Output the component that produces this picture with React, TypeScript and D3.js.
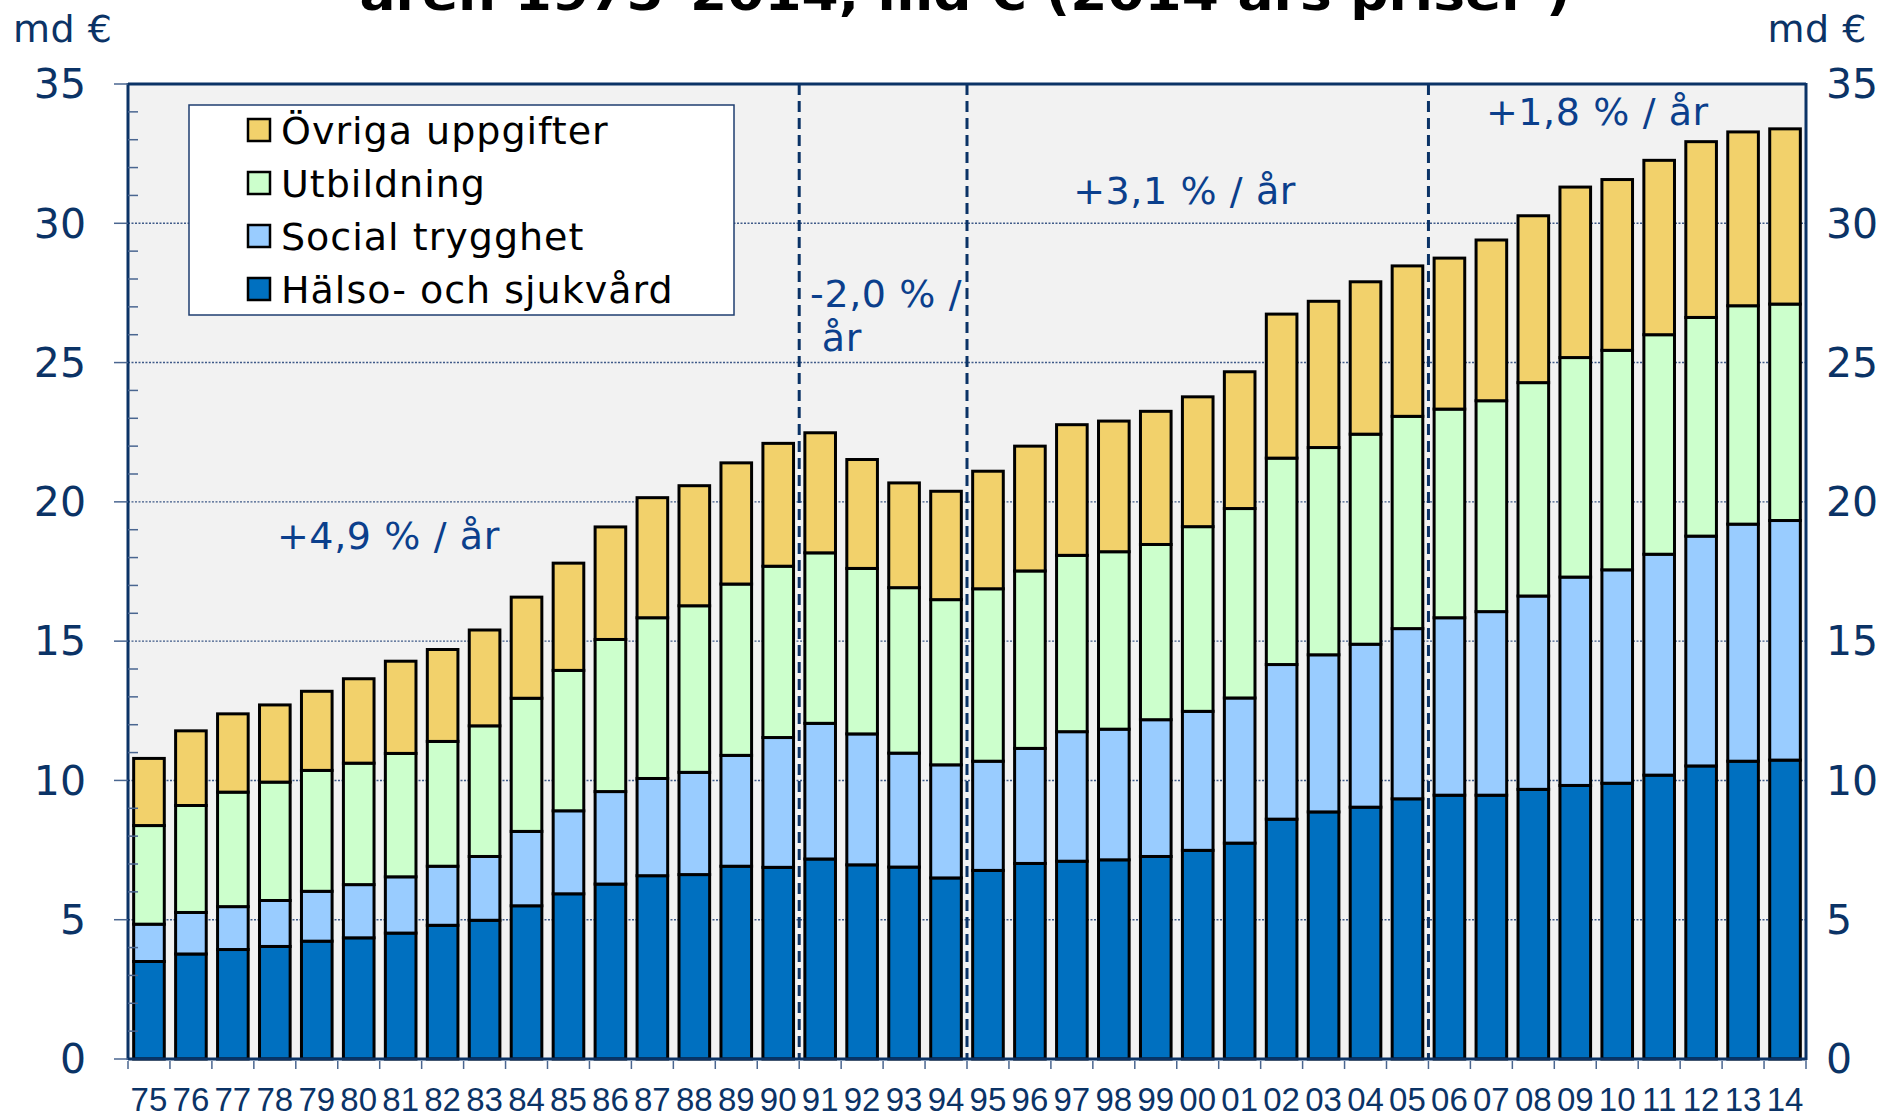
import React from 'react';
import * as d3 from 'd3';

// years 1975-2014, labelled with two digits
const years = ['75', '76', '77', '78', '79', '80', '81', '82', '83', '84', '85', '86', '87', '88', '89', '90',
  '91', '92', '93', '94', '95', '96', '97', '98', '99', '00', '01', '02', '03', '04', '05', '06', '07', '08',
  '09', '10', '11', '12', '13', '14'];

// md € per series (stacked bottom -> top)
const halso = [3.5, 3.77, 3.93, 4.04, 4.23, 4.35, 4.52, 4.8, 4.98, 5.5, 5.93, 6.28, 6.58, 6.62, 6.92, 6.88,
  7.18, 6.97, 6.89, 6.5, 6.77, 7.02, 7.1, 7.15, 7.27, 7.49, 7.75, 8.61, 8.87, 9.04, 9.34, 9.47, 9.47, 9.68,
  9.82, 9.9, 10.19, 10.52, 10.69, 10.73];
const social = [1.34, 1.49, 1.54, 1.65, 1.79, 1.91, 2.02, 2.12, 2.29, 2.67, 2.98, 3.32, 3.49, 3.67, 3.98, 4.66,
  4.87, 4.7, 4.09, 4.06, 3.92, 4.13, 4.65, 4.69, 4.91, 4.99, 5.21, 5.55, 5.64, 5.85, 6.11, 6.37, 6.59, 6.94,
  7.48, 7.66, 7.93, 8.25, 8.51, 8.6];
const utbildning = [3.54, 3.84, 4.11, 4.25, 4.34, 4.36, 4.43, 4.48, 4.69, 4.78, 5.04, 5.46, 5.77, 5.98, 6.15, 6.15,
  6.12, 5.94, 5.94, 5.93, 6.19, 6.37, 6.33, 6.37, 6.29, 6.63, 6.8, 7.41, 7.44, 7.54, 7.62, 7.49, 7.57, 7.66,
  7.88, 7.88, 7.88, 7.85, 7.84, 7.77];
const ovriga = [2.41, 2.68, 2.81, 2.77, 2.84, 3.03, 3.31, 3.3, 3.44, 3.63, 3.85, 4.04, 4.31, 4.31, 4.35, 4.41,
  4.31, 3.91, 3.76, 3.89, 4.22, 4.48, 4.69, 4.69, 4.78, 4.66, 4.91, 5.17, 5.25, 5.47, 5.4, 5.42, 5.77, 5.99,
  6.12, 6.13, 6.26, 6.31, 6.24, 6.29];

const seriesNames = ['Hälso- och sjukvård', 'Social trygghet', 'Utbildning', 'Övriga uppgifter'];
const seriesColors = ['#0070C0', '#99CCFF', '#CCFFCC', '#F2D16B'];

const yTicks = [0, 5, 10, 15, 20, 25, 30, 35];

// period boundaries (dashed lines drawn after these years)
const breakAfter = ['90', '94', '05'];
// growth notes: pos = position in category steps from the left axis, value = baseline in md €
const growthNotes = [
  { text: '+4,9 % / år', pos: 3.55, value: 18.3 },
  { text: '-2,0 % /', pos: 16.26, value: 27.0 },
  { text: 'år', pos: 16.54, value: 25.4 },
  { text: '+3,1 % / år', pos: 22.53, value: 30.68 },
  { text: '+1,8 % / år', pos: 32.37, value: 33.52 },
];

const title = 'åren 1975–2014, md € (2014 års priser )';

const W = 1880, H = 1116;
const margin = { top: 84, right: 74, bottom: 57, left: 128 };
const navy = '#0B3366';
const noteBlue = '#0B3F8C';
const font = '"DejaVu Sans", Verdana, sans-serif';

export default function App() {
  const x = d3.scaleBand()
    .domain(years)
    .range([margin.left, W - margin.right])
    .paddingInner(0.27)
    .paddingOuter(0.135);
  const y = d3.scaleLinear().domain([0, 35]).range([H - margin.bottom, margin.top]);

  const rows = years.map((yr, i) => ({
    year: yr, s0: halso[i], s1: social[i], s2: utbildning[i], s3: ovriga[i],
  }));
  const stack = d3.stack().keys(['s0', 's1', 's2', 's3'])(rows as any);

  const step = x.step();
  const left = margin.left, right = W - margin.right;
  const bottom = y(0), top = y(35);
  const minor = d3.range(0, 36).filter(v => v % 5 !== 0);

  return (
    <svg width={W} height={H} style={{ position: 'absolute', left: 0, top: 0, display: 'block', background: '#fff' }}>
      <text x={965} y={10} textAnchor="middle" fontFamily={font} fontWeight="bold" fontSize={48}
        textLength={1211} lengthAdjust="spacingAndGlyphs" fill="#000">{title}</text>
      <text x={13} y={42} fontFamily={font} fontSize={38} letterSpacing={0.5} fill={navy}>md €</text>
      <text x={1867} y={42} textAnchor="end" fontFamily={font} fontSize={38} letterSpacing={0.5} fill={navy}>md €</text>

      <rect x={left} y={top} width={right - left} height={bottom - top} fill="#F2F2F2" />

      {/* grid */}
      {yTicks.filter(t => t > 0 && t < 35).map(t => (
        <line key={t} x1={left} x2={right} y1={y(t)} y2={y(t)} stroke="#3F5A88" strokeWidth={1.4} strokeDasharray="2,1.5" />
      ))}

      {/* bars */}
      {stack.map((layer, si) => (
        <g key={si} fill={seriesColors[si]} stroke="#000" strokeWidth={3}>
          {layer.map((d, i) => (
            <rect key={i} x={x(years[i])} y={y(d[1])} width={x.bandwidth()} height={y(d[0]) - y(d[1])} />
          ))}
        </g>
      ))}

      {/* period separators */}
      {breakAfter.map(b => {
        const bx = (x(b) as number) + x.bandwidth() + step * 0.135;
        return <line key={b} x1={bx} x2={bx} y1={top} y2={bottom} stroke={navy} strokeWidth={3} strokeDasharray="11,6" />;
      })}

      {/* axes frame */}
      <line x1={left} x2={right} y1={top} y2={top} stroke={navy} strokeWidth={3} />
      <line x1={left} x2={left} y1={top - 1} y2={bottom + 1} stroke={navy} strokeWidth={3} />
      <line x1={right} x2={right} y1={top - 1} y2={bottom + 1} stroke={navy} strokeWidth={3} />
      <line x1={left} x2={right + 1} y1={bottom} y2={bottom} stroke={navy} strokeWidth={3} />

      {/* y ticks */}
      {yTicks.map(t => (
        <g key={t}>
          <line x1={left - 14} x2={left} y1={y(t)} y2={y(t)} stroke="#4A6690" strokeWidth={1.5} />
          <text x={86} y={y(t)} dy="0.35em" textAnchor="end" fontFamily={font} fontSize={41} fill={navy}>{t}</text>
          <text x={1826} y={y(t)} dy="0.35em" fontFamily={font} fontSize={41} fill={navy}>{t}</text>
        </g>
      ))}
      {minor.map(t => (
        <line key={t} x1={left} x2={left + 10} y1={y(t)} y2={y(t)} stroke="#4A6690" strokeWidth={1.5} />
      ))}

      {/* x ticks & labels */}
      {d3.range(0, years.length + 1).map(i => (
        <line key={i} x1={left + i * step} x2={left + i * step} y1={bottom + 2} y2={bottom + 10} stroke="#4A6690" strokeWidth={1.5} />
      ))}
      {years.map(yr => (
        <text key={yr} x={(x(yr) as number) + x.bandwidth() / 2} y={1111} textAnchor="middle"
          fontFamily='"Liberation Sans Narrow", "Arial Narrow", "Liberation Sans", sans-serif' fontSize={33} fill={navy}>{yr}</text>
      ))}

      {/* growth notes */}
      {growthNotes.map((n, k) => (
        <text key={k} x={left + n.pos * step} y={y(n.value)} fontFamily={font} fontSize={38} letterSpacing={0.6}
          fill={noteBlue}>{n.text}</text>
      ))}

      {/* legend */}
      <rect x={189} y={105} width={545} height={210} fill="#fff" stroke="#1F3E70" strokeWidth={1.5} />
      {[3, 2, 1, 0].map((si, r) => (
        <g key={si} transform={`translate(248, ${130 + r * 53})`}>
          <rect x={0} y={-11} width={22} height={22} fill={seriesColors[si]} stroke="#000" strokeWidth={2.5} />
          <text x={33} y={0} dy="0.36em" fontFamily={font} fontSize={38} letterSpacing={1} fill="#000">{seriesNames[si]}</text>
        </g>
      ))}
    </svg>
  );
}
